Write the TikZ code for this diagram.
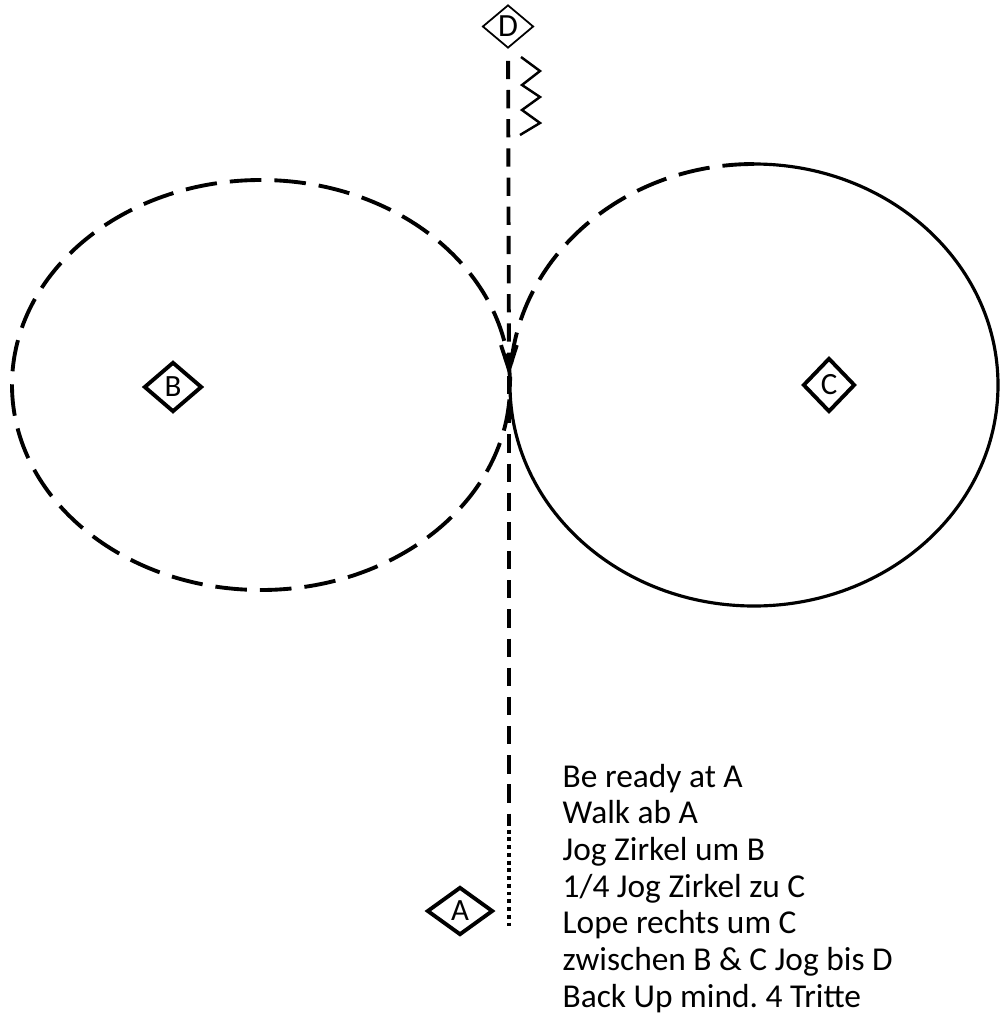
\documentclass[tikz,border=0pt]{standalone}
\usepackage{fontspec}
\setmainfont{Carlito}
\usetikzlibrary{positioning,shapes.geometric,arrows.meta}
\tikzset{
  cone/.style      = {diamond, draw=black, line width=1.1pt, inner sep=0pt, font=\fontsize{8.8}{9}\selectfont},
  conethin/.style  = {cone, line width=0.5pt, font=\fontsize{9.2}{10}\selectfont},
  ring/.style      = {draw=black, line width=0.9pt},
  ringdash/.style  = {draw=black, line width=1.1pt, dash pattern=on 9pt off 3.7pt},
  lane/.style      = {draw=black, line width=1.1pt, dash pattern=on 5.2pt off 3.1pt},
  lanedot/.style   = {draw=black, line width=1.2pt, dash pattern=on 1.1pt off 1.1pt},
  wiggle/.style    = {draw=black, line width=0.7pt},
  task/.style      = {font=\fontsize{9.5}{11}\selectfont, anchor=base west, inner sep=0pt},
}
\frenchspacing

\begin{document}
\begin{tikzpicture}[x=1cm,y=1cm]
  \useasboundingbox (0,0) rectangle (10,-10.19);

  % cones
  \node[conethin, minimum width=0.51cm, minimum height=0.43cm] (D) at (5.08,-0.265) {D};
  \node[cone, minimum width=0.58cm, minimum height=0.50cm] (B) at (1.73,-3.87) {B};
  \node[cone, minimum width=0.52cm, minimum height=0.54cm] (C) at (8.29,-3.85) {C};
  \node[cone, minimum width=0.66cm, minimum height=0.48cm] (A) at (4.60,-9.11) {A};

  % circles
  \coordinate (midB) at (2.61,-3.85);
  \coordinate (midC) at (7.54,-3.85);
  \draw[ringdash] (midB) ellipse [x radius=2.49, y radius=2.05];
  \draw[ringdash] (midC) ++(0,2.21) arc[start angle=90, end angle=180, x radius=2.44, y radius=2.21];
  \draw[ring] (midC) ++(0,2.21) arc[start angle=90, end angle=-180, x radius=2.44, y radius=2.21];

  % center line
  \coordinate (tip) at (5.09,-3.76);
  \coordinate (walk) at (5.09,-8.22);
  \coordinate (start) at (5.09,-9.27);
  \draw[lane, shorten <=0.12cm, -{Straight Barb[length=7pt, width=4.5pt]}] (D) -- (tip);
  \draw[lane] (tip) -- (walk);
  \draw[lanedot] (walk) -- (start);

  % back up
  \draw[wiggle] (5.21,-0.57) -- (5.40,-0.71) -- (5.22,-0.85) -- (5.40,-0.97)
    -- (5.22,-1.10) -- (5.40,-1.23) -- (5.20,-1.35);

  % pattern
  \foreach \t [count=\i from 0] in {Be ready at A, Walk ab A, Jog Zirkel um B,
      1/4 Jog Zirkel zu C, Lope rechts um C, zwischen B \& C Jog bis D,
      Back Up mind. 4 Tritte} {
    \node[task] (task\i) at (5.62,{-7.87-\i*0.367}) {\t};
  }
\end{tikzpicture}
\end{document}
